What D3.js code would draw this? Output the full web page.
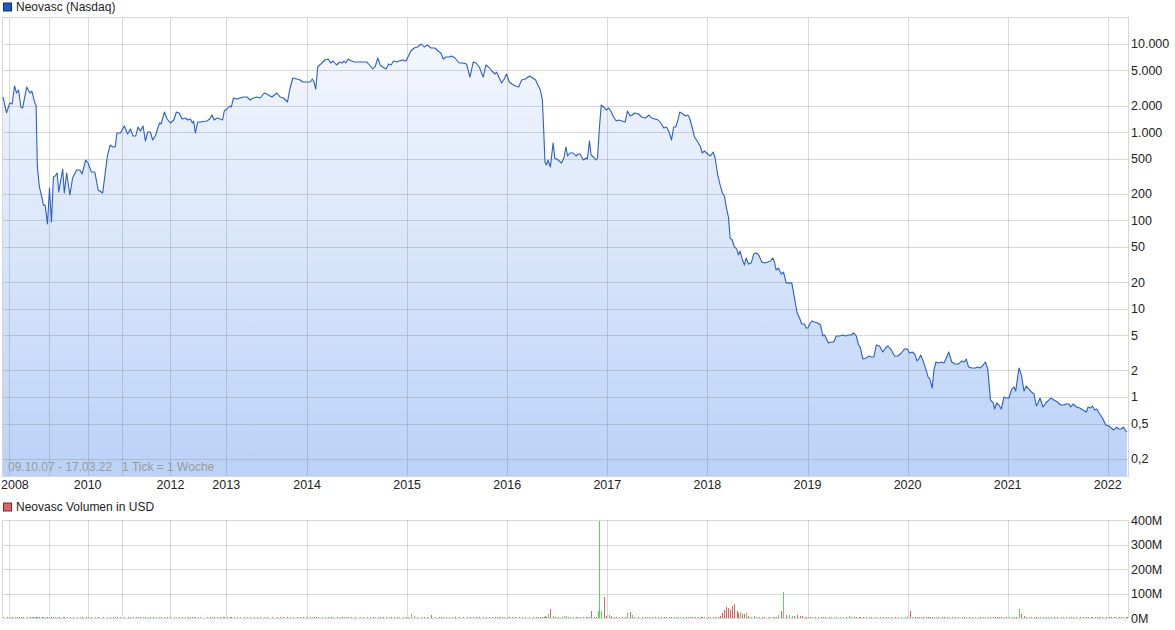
<!DOCTYPE html>
<html><head><meta charset="utf-8">
<script src="https://cdn.jsdelivr.net/npm/d3@7"></script>
<style>
body{margin:0;background:#fff;}
svg{display:block;font-family:"Liberation Sans",Arial,Helvetica,sans-serif;}
</style></head><body>
<svg id="chart" width="1175" height="630"></svg>
<script>
// ---------------- DATA ----------------
// Weekly ticks: the x axis is tick-indexed ("1 Tick = 1 Woche"); number of ticks per year
const firstDate = 2007.77;      // 09.10.07
const lastDate = 2022.205;      // 17.03.22
const ticksBefore2008 = 3;
const tickYears = [2008,2009,2010,2011,2012,2013,2014,2015,2016,2017,2018,2019,2020,2021];
const ticksPerYear = [21,20,18,25,29,42,52,52,52,52,52,52,52,52];
const ticks2022 = 11;
const labeledYears = [2008,2010,2012,2013,2014,2015,2016,2017,2018,2019,2020,2021,2022];
const gridYears = [2008,2009,2010,2011,2012,2013,2014,2015,2016,2017,2018,2019,2020,2021,2022];
const priceTicks = [0.2,0.5,1,2,5,10,20,50,100,200,500,1000,2000,5000,10000];
const volumeTicks = [0,100,200,300,400];
const priceLegend = "Neovasc (Nasdaq)";
const volumeLegend = "Neovasc Volumen in USD";
const rangeNote = "09.10.07 - 17.03.22   1 Tick = 1 Woche";

// [decimal year, price (USD), volume (Mio. USD)]
const series2007to2009 = [
[2007.77,2500,1],[2007.91,1650,1],[2008.025,2140,1],[2008.083,2080,1],[2008.143,3330,1],[2008.193,2770,1],[2008.243,3000,1],[2008.30,1920,1],[2008.343,1880,1],[2008.443,3240,1],[2008.525,2770,1],[2008.568,2920,1],[2008.608,2500,1],[2008.643,2140,1],[2008.675,2030,1],[2008.708,403,1],[2008.758,239,1],[2008.818,184,1],[2008.858,149,1],[2008.90,149,1],[2008.958,91,1],[2009.008,233,1],[2009.059,96,1],[2009.11,310,1],[2009.154,318,1],[2009.205,344,1],[2009.249,210,1],[2009.351,382,1],[2009.392,204,1],[2009.454,344,1],[2009.538,194,1],[2009.608,302,1],[2009.71,372,1],[2009.795,372,1],[2009.854,335,1],[2009.949,483,1]
];
const series2010to2012 = [
[2010.009,447,1],[2010.109,353,1],[2010.206,353,1],[2010.303,221,1],[2010.432,204,1],[2010.568,536,1],[2010.647,714,1],[2010.726,678,1],[2010.794,678,1],[2010.844,977,1],[2010.941,977,1],[2011.042,1172,1],[2011.11,952,1],[2011.167,1084,1],[2011.223,903,1],[2011.277,903,1],[2011.327,1142,1],[2011.375,1029,1],[2011.431,1172,1],[2011.479,793,1],[2011.527,1003,1],[2011.583,1003,1],[2011.631,814,1],[2011.694,927,1],[2011.771,1268,1],[2011.806,1235,1],[2011.875,1689,1],[2011.931,1407,1],[2012.0,1268,1],[2012.059,1371,1],[2012.107,1689,1],[2012.155,1646,1],[2012.209,1407,1],[2012.268,1444,1],[2012.309,1371,1],[2012.357,1407,1],[2012.393,1268,1],[2012.416,1336,1],[2012.446,977,1],[2012.488,1301,1],[2012.536,1301,1],[2012.655,1336,1],[2012.702,1407,1],[2012.745,1562,1],[2012.786,1371,1],[2012.834,1444,1],[2012.893,1407,1],[2012.934,1371,1],[2012.964,1734,1]
];
const series2013 = [
[2013.009,1826,1],[2013.041,1975,1],[2013.062,1924,1],[2013.09,2434,1],[2013.132,2371,1],[2013.173,2434,1],[2013.214,2498,1],[2013.256,2498,1],[2013.296,2310,1],[2013.337,2434,1],[2013.379,2498,1],[2013.42,2434,1],[2013.469,2772,1],[2013.502,2701,1],[2013.564,2498,1],[2013.626,2772,1],[2013.667,2498,1],[2013.707,2434,1],[2013.757,2193,1],[2013.784,2998,1],[2013.823,4100,1],[2013.873,3995,1],[2013.914,3890,1],[2013.947,3693,1],[2013.996,3693,1]
];
const series2014 = [
[2014.03,3693,2],[2014.052,3995,1],[2014.069,3693,1],[2014.086,3077,2],[2014.106,5460,3],[2014.146,6060,2],[2014.178,6555,1],[2014.211,6730,1],[2014.235,6060,1],[2014.26,6390,1],[2014.294,5755,1],[2014.327,6220,1],[2014.35,6060,1],[2014.369,6390,1],[2014.386,6060,1],[2014.409,6730,1],[2014.443,6390,1],[2014.475,6220,1],[2014.525,6220,1],[2014.557,6220,1],[2014.597,6220,1],[2014.624,5755,1],[2014.656,5185,1],[2014.683,5605,1],[2014.706,6905,1],[2014.73,5755,1],[2014.755,5460,1],[2014.789,5185,1],[2014.815,5905,1],[2014.839,5755,1],[2014.864,6390,1],[2014.894,6220,1],[2014.921,6390,1],[2014.954,6555,1],[2014.987,6390,2]
];
const series2015 = [
[2015.013,7275,5],[2015.037,8290,18],[2015.07,8965,8],[2015.103,9200,6],[2015.143,9950,5],[2015.17,9200,3],[2015.203,9690,4],[2015.237,8965,13],[2015.277,8965,5],[2015.32,8075,3],[2015.337,7865,2],[2015.36,6730,3],[2015.387,7090,2],[2015.42,7090,2],[2015.443,7275,2],[2015.477,6905,2],[2015.52,6060,2],[2015.553,6060,2],[2015.593,5905,6],[2015.627,4205,3],[2015.66,6220,2],[2015.687,6060,2],[2015.72,5460,2],[2015.76,4205,3],[2015.787,5755,5],[2015.813,5460,2],[2015.847,4920,2],[2015.877,4550,2],[2015.893,4795,2],[2015.92,4100,2],[2015.943,3598,2],[2015.97,3995,2],[2015.993,4550,2]
];
const series2016 = [
[2016.02,3693,2],[2016.047,3505,2],[2016.081,3328,2],[2016.114,3242,2],[2016.144,3890,2],[2016.182,3995,2],[2016.222,4320,2],[2016.256,4100,2],[2016.283,3890,2],[2016.306,3415,2],[2016.33,2998,3],[2016.351,2310,4],[2016.364,1056,6],[2016.377,459,8],[2016.391,424,5],[2016.407,483,18],[2016.431,403,38],[2016.458,753,10],[2016.475,509,5],[2016.508,483,3],[2016.542,447,3],[2016.566,509,8],[2016.586,678,10],[2016.603,536,5],[2016.626,580,3],[2016.66,580,2],[2016.687,536,2],[2016.71,565,2],[2016.727,565,2],[2016.761,483,2],[2016.788,509,4],[2016.801,496,4],[2016.821,793,6],[2016.838,551,30],[2016.862,523,5],[2016.886,483,4],[2016.902,509,27],[2016.919,1056,397],[2016.939,2028,30],[2016.963,1924,84],[2016.99,1780,10]
];
const series2017 = [
[2017.013,1875,13],[2017.04,1689,8],[2017.062,1483,5],[2017.089,1336,5],[2017.112,1371,6],[2017.146,1336,3],[2017.178,1301,3],[2017.201,1734,20],[2017.228,1522,26],[2017.25,1562,14],[2017.27,1646,4],[2017.31,1603,3],[2017.344,1483,2],[2017.376,1444,3],[2017.393,1483,3],[2017.416,1562,2],[2017.443,1444,2],[2017.475,1407,2],[2017.508,1371,2],[2017.535,1268,2],[2017.564,1113,2],[2017.591,1142,2],[2017.617,1003,2],[2017.641,814,3],[2017.663,1142,4],[2017.683,1142,2],[2017.706,1371,3],[2017.723,1689,2],[2017.755,1603,2],[2017.782,1522,2],[2017.805,1562,2],[2017.822,1444,2],[2017.849,1113,3],[2017.871,880,3],[2017.904,773,2],[2017.931,678,2],[2017.948,580,2],[2017.97,611,2]
];
const series2018 = [
[2018.003,565,2],[2018.03,536,3],[2018.057,595,4],[2018.077,509,3],[2018.103,327,6],[2018.127,252,8],[2018.15,204,20],[2018.17,189,34],[2018.19,138,45],[2018.21,109,41],[2018.227,63,31],[2018.247,60,50],[2018.27,50,58],[2018.293,47.5,27],[2018.31,40.6,20],[2018.327,45,23],[2018.347,36.6,18],[2018.37,31.3,18],[2018.387,37.5,20],[2018.41,32.1,8],[2018.437,32.9,6],[2018.463,41.6,8],[2018.487,42.7,6],[2018.513,40.6,5],[2018.543,33.8,5],[2018.57,32.9,3],[2018.603,33.8,4],[2018.63,34.7,3],[2018.653,37.5,3],[2018.67,33.8,3],[2018.687,27.4,4],[2018.71,28.9,14],[2018.737,24.7,27],[2018.76,26.0,105],[2018.787,19.6,14],[2018.82,19.6,14],[2018.843,19.6,10],[2018.87,13.2,10],[2018.897,8.94,11],[2018.92,7.85,8],[2018.943,6.71,7],[2018.97,6.71,3],[2018.987,6.05,2]
];
const series2019 = [
[2019.003,6.05,2],[2019.027,6.89,2],[2019.043,7.26,2],[2019.07,7.07,3],[2019.103,6.89,2],[2019.13,6.54,2],[2019.153,4.91,2],[2019.17,5.04,2],[2019.21,4.09,2],[2019.237,4.20,2],[2019.263,4.20,2],[2019.287,4.91,2],[2019.32,4.91,3],[2019.353,5.04,2],[2019.38,4.91,2],[2019.413,5.04,10],[2019.437,5.04,2],[2019.46,5.31,2],[2019.487,4.91,2],[2019.51,3.88,2],[2019.527,3.68,2],[2019.553,2.69,2],[2019.587,2.77,2],[2019.613,2.91,2],[2019.637,2.84,2],[2019.663,2.84,2],[2019.687,3.88,2],[2019.72,3.78,2],[2019.753,3.23,2],[2019.78,3.59,2],[2019.803,3.78,2],[2019.837,3.41,2],[2019.87,2.91,2],[2019.903,2.91,2],[2019.937,3.15,2],[2019.97,3.50,2],[2019.997,3.50,2]
];
const series2020 = [
[2020.02,3.15,30],[2020.047,3.23,4],[2020.071,3.07,2],[2020.094,2.56,2],[2020.111,2.69,2],[2020.131,2.99,2],[2020.155,2.56,2],[2020.182,2.08,2],[2020.205,1.68,2],[2020.222,1.60,2],[2020.246,1.26,2],[2020.263,2.02,2],[2020.283,2.49,2],[2020.306,2.43,2],[2020.34,2.49,3],[2020.364,2.43,2],[2020.391,2.84,2],[2020.411,3.23,2],[2020.441,2.49,2],[2020.475,2.36,2],[2020.508,2.36,2],[2020.542,2.56,2],[2020.566,2.49,2],[2020.586,2.69,2],[2020.609,2.19,2],[2020.643,2.13,2],[2020.677,2.13,2],[2020.7,2.19,2],[2020.727,2.13,2],[2020.754,2.30,2],[2020.778,2.49,2],[2020.801,2.08,2],[2020.828,0.925,2],[2020.856,0.855,2],[2020.869,0.731,2],[2020.889,0.855,2],[2020.912,0.812,2],[2020.936,0.731,2],[2020.963,1.0,2],[2020.987,0.974,3]
];
const series2021 = [
[2021.013,0.974,2],[2021.04,1.23,2],[2021.063,1.30,2],[2021.08,1.17,2],[2021.113,2.13,38],[2021.137,1.78,16],[2021.163,1.17,7],[2021.187,1.33,6],[2021.213,1.23,4],[2021.237,1.14,2],[2021.263,1.08,2],[2021.287,0.791,2],[2021.303,0.855,2],[2021.323,0.974,2],[2021.353,0.770,2],[2021.38,0.855,2],[2021.403,0.901,2],[2021.43,0.974,2],[2021.463,0.925,2],[2021.497,0.878,2],[2021.53,0.812,2],[2021.557,0.812,2],[2021.587,0.833,2],[2021.613,0.833,2],[2021.63,0.770,2],[2021.653,0.833,2],[2021.687,0.770,2],[2021.72,0.750,2],[2021.753,0.712,2],[2021.787,0.676,2],[2021.803,0.770,2],[2021.83,0.750,2],[2021.847,0.791,2],[2021.87,0.712,2],[2021.89,0.731,2],[2021.913,0.659,2],[2021.947,0.578,2],[2021.98,0.482,2]
];
const series2022 = [
[2022.013,0.469,2],[2022.038,0.446,2],[2022.065,0.423,2],[2022.092,0.457,2],[2022.116,0.434,2],[2022.143,0.434,2],[2022.167,0.457,2],[2022.192,0.412,2],[2022.205,0.402,2]
];

// ---------------- LAYOUT ----------------
const plot = {left:3, right:1128, top:17, bottom:476};
const vol = {top:520, bottom:618};
const colors = {
  line:"#2a5fc7", fillTop:"#f7f9fe", fillBottom:"#bad2f7",
  grid:"rgba(120,120,120,0.28)", frame:"#d6d6d6",
  up:"#5ad45a", down:"#e06262", text:"#222", note:"#9a9a9a"
};

const data = [].concat(series2007to2009, series2010to2012, series2013, series2014, series2015,
  series2016, series2017, series2018, series2019, series2020, series2021, series2022)
  .map(d => ({t:d[0], price:d[1], volume:d[2]}));
data.forEach((d,i) => { d.up = i === 0 ? true : d.price >= data[i-1].price; });

// date -> tick index (piecewise by year), tick index -> pixel
const breakDates = [firstDate];
const breakIdx = [0];
let cum = ticksBefore2008;
tickYears.forEach((yr,i) => { breakDates.push(yr); breakIdx.push(cum); cum += ticksPerYear[i]; });
breakDates.push(2022); breakIdx.push(cum);
const lastIdx = cum + ticks2022 - 1;
breakDates.push(lastDate); breakIdx.push(lastIdx);

const toIdx = d3.scaleLinear().domain(breakDates).range(breakIdx);
const idxToPx = d3.scaleLinear().domain([0, lastIdx]).range([plot.left, plot.right - 1]);
const x = t => idxToPx(toIdx(t));

const y = d3.scaleLog().domain([0.1274, 20120]).range([plot.bottom, plot.top]);
const yv = d3.scaleLinear().domain([0, 400]).range([vol.bottom, vol.top]);

const de = d3.formatLocale({decimal:",", thousands:".", grouping:[3], currency:["","€"]});
const fmtPrice = v => v < 1 ? de.format(".1f")(v) : de.format(",")(v);

const svg = d3.select("#chart");
const defs = svg.append("defs");
const grad = defs.append("linearGradient").attr("id","areaGrad")
  .attr("gradientUnits","userSpaceOnUse").attr("x1",0).attr("x2",0)
  .attr("y1",plot.top).attr("y2",plot.bottom);
grad.append("stop").attr("offset","0%").attr("stop-color",colors.fillTop);
grad.append("stop").attr("offset","100%").attr("stop-color",colors.fillBottom);

// ---- legends ----
function legend(yTop, fill, stroke, label){
  svg.append("rect").attr("x",3.5).attr("y",yTop+0.5).attr("width",8).attr("height",8)
    .attr("fill",fill).attr("stroke",stroke).attr("stroke-width",1);
  svg.append("text").attr("x",16).attr("y",yTop+8.7).attr("font-size","12px")
    .attr("fill",colors.text).text(label);
}
legend(2.5, "#2159c4", "#0e2f6e", priceLegend);
legend(502.5, "#e06666", "#6e2a2a", volumeLegend);

// ---- price area ----
const area = d3.area().x(d => x(d.t)).y0(plot.bottom).y1(d => y(d.price));
svg.append("path").datum(data).attr("d", area).attr("fill","url(#areaGrad)");

// grids (price panel)
const gp = svg.append("g").attr("shape-rendering","crispEdges");
gp.selectAll(".hg").data(priceTicks).join("line")
  .attr("x1",plot.left).attr("x2",plot.right)
  .attr("y1",d => Math.round(y(d))+0.5).attr("y2",d => Math.round(y(d))+0.5)
  .attr("stroke",colors.grid);
gp.selectAll(".vg").data(gridYears).join("line")
  .attr("x1",d => Math.round(x(d))+0.5).attr("x2",d => Math.round(x(d))+0.5)
  .attr("y1",plot.top).attr("y2",plot.bottom)
  .attr("stroke",colors.grid);
gp.append("rect").attr("x",plot.left-0.5).attr("y",plot.top+0.5)
  .attr("width",plot.right-plot.left+1).attr("height",plot.bottom-plot.top)
  .attr("fill","none").attr("stroke",colors.frame);

// price line
const line = d3.line().x(d => x(d.t)).y(d => y(d.price));
svg.append("path").datum(data).attr("d", line).attr("fill","none")
  .attr("stroke",colors.line).attr("stroke-width",1.1).attr("stroke-linejoin","round");

// right price axis labels
svg.append("g").selectAll("text").data(priceTicks).join("text")
  .attr("x",plot.right+3).attr("y",d => y(d)).attr("dy","0.36em")
  .attr("font-size","12.5px").attr("fill",colors.text).text(fmtPrice);

// year labels (kept inside the picture at the left edge)
svg.append("g").selectAll("text").data(labeledYears).join("text")
  .attr("y",489).attr("text-anchor","middle")
  .attr("font-size","12.5px").attr("fill",colors.text).text(d => d)
  .each(function(d){
    const w = this.getComputedTextLength();
    d3.select(this).attr("x", Math.max(x(d), w/2 + 1));
  });

// range note
svg.append("text").attr("x",8).attr("y",471).attr("font-size","12px")
  .attr("fill",colors.note).style("white-space","pre").text(rangeNote);

// ---- volume panel ----
const gv = svg.append("g").attr("shape-rendering","crispEdges");
gv.selectAll(".hg").data(volumeTicks).join("line")
  .attr("x1",plot.left).attr("x2",plot.right)
  .attr("y1",d => Math.round(yv(d))+0.5).attr("y2",d => Math.round(yv(d))+0.5)
  .attr("stroke",colors.grid);
gv.selectAll(".vg").data(gridYears).join("line")
  .attr("x1",d => Math.round(x(d))+0.5).attr("x2",d => Math.round(x(d))+0.5)
  .attr("y1",vol.top).attr("y2",vol.bottom)
  .attr("stroke",colors.grid);
gv.append("line").attr("x1",plot.left-0.5).attr("x2",plot.left-0.5)
  .attr("y1",vol.top).attr("y2",vol.bottom).attr("stroke",colors.frame);
gv.append("line").attr("x1",plot.right+0.5).attr("x2",plot.right+0.5)
  .attr("y1",vol.top).attr("y2",vol.bottom).attr("stroke",colors.frame);

gv.selectAll(".bar").data(data).join("rect")
  .attr("x",d => Math.round(x(d.t)))
  .attr("width",1)
  .attr("y",d => Math.min(yv(d.volume), vol.bottom - 1))
  .attr("height",d => Math.max(1, vol.bottom - yv(d.volume)))
  .attr("fill",d => d.up ? colors.up : colors.down);

svg.append("g").selectAll("text").data(volumeTicks).join("text")
  .attr("x",plot.right+3).attr("y",d => yv(d)).attr("dy","0.36em")
  .attr("font-size","12.5px").attr("fill",colors.text).text(d => d + "M");
</script>
</body></html>
